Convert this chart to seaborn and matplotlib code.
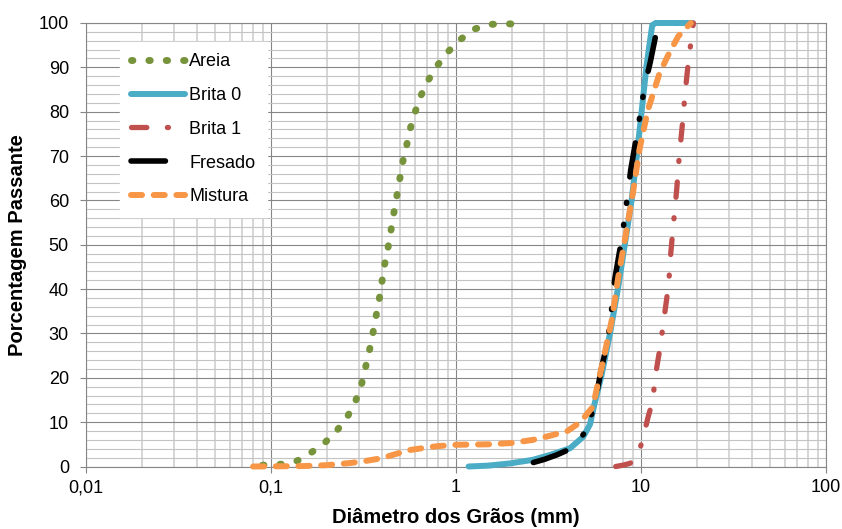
import numpy as np
import pandas as pd
import matplotlib
matplotlib.use("Agg")
import matplotlib.pyplot as plt
import matplotlib.ticker as mticker
import seaborn as sns

# ---------------- data ----------------
areia_d = [0.09, 0.113, 0.139, 0.167, 0.198, 0.230, 0.261, 0.288, 0.309, 0.325, 0.341,
           0.356, 0.370, 0.385, 0.398, 0.411, 0.429, 0.445, 0.461, 0.478, 0.496, 0.515,
           0.541, 0.566, 0.600, 0.644, 0.708, 0.792, 0.905, 1.05, 1.25, 1.53, 1.90, 2.36]
areia_p = [0.3, 0.5, 1.3, 3.3, 5.6, 8.4, 11.5, 15.0, 18.6, 22.5, 26.3,
           30.2, 34.0, 37.8, 41.7, 45.5, 49.3, 53.2, 57.1, 60.8, 64.7, 68.6,
           72.4, 76.2, 79.8, 83.5, 87.1, 90.4, 93.5, 96.2, 98.6, 99.7, 99.8, 99.8]

brita0_d = [1.17, 1.5, 1.96, 2.6, 3.22, 4.13, 4.87, 5.3, 5.6, 6.1, 6.8, 7.54, 8.2,
            8.9, 9.48, 10.1, 10.7, 11.1, 11.5, 12.0, 15.5, 19.0]
brita0_p = [0.0, 0.2, 0.7, 1.5, 2.6, 4.1, 6.7, 9.5, 14.0, 20.3, 30.0, 40.6, 50.4,
            60.1, 69.9, 80.4, 90.2, 95.0, 99.5, 100.0, 100.0, 100.0]

brita1_d = [7.3, 8.0, 8.7, 9.2, 9.6, 10.2, 10.9, 11.6, 11.9, 12.7, 13.4, 14.1, 14.5,
            15.0, 15.6, 16.1, 16.7, 17.3, 18.0, 18.8, 19.2]
brita1_p = [0.0, 0.3, 0.7, 1.3, 2.5, 6.0, 11.0, 15.0, 19.9, 27.0, 34.2, 41.0, 48.3,
            55.0, 62.5, 70.0, 76.7, 84.0, 91.0, 97.0, 100.0]

fresado_d = [2.62, 3.0, 3.5, 4.22, 4.6, 5.05, 5.5, 5.8, 6.1, 6.5, 6.8, 7.2, 7.9,
             8.5, 8.8, 9.6, 10.5, 11.2, 12.4]
fresado_p = [0.9, 1.6, 2.6, 4.1, 5.8, 8.1, 12.7, 17.0, 22.0, 27.0, 32.0, 42.0, 51.8,
             61.8, 66.9, 76.0, 86.1, 91.0, 100.0]

mistura_d = [0.08, 0.15, 0.2, 0.27, 0.33, 0.4, 0.48, 0.56, 0.7, 0.8, 1.0, 1.5, 2.0,
             2.6, 3.2, 4.0, 4.7, 5.5, 5.8, 6.2, 6.95, 7.54, 8.3, 9.1, 9.8, 10.9,
             12.6, 14.2, 15.9, 18.6]
mistura_p = [0.0, 0.1, 0.3, 0.8, 1.3, 1.9, 2.9, 3.7, 4.3, 4.6, 4.9, 5.0, 5.3,
             6.0, 6.9, 8.0, 10.0, 13.5, 18.0, 23.3, 33.0, 42.8, 52.6, 62.4, 71.4, 80.4,
             88.7, 93.2, 97.0, 100.0]

series_names = ["Areia", "Brita 0", "Brita 1", "Fresado", "Mistura"]
x_ticks = [0.01, 0.1, 1, 10, 100]
x_tick_labels = ["0,01", "0,1", "1", "10", "100"]
y_ticks = [0, 10, 20, 30, 40, 50, 60, 70, 80, 90, 100]
x_label = "Diâmetro dos Grãos (mm)"
y_label = "Porcentagem Passante"

# ---------------- style ----------------
sns.set_theme(style="white")
plt.rcParams["font.family"] = ["Liberation Sans", "DejaVu Sans"]
plt.rcParams["lines.scale_dashes"] = True

W, H = 842, 529
fig = plt.figure(figsize=(W / 100, H / 100), dpi=100)
L, R, T, B = 86, 826, 23, 466.5
ax = fig.add_axes([L / W, 1 - B / H, (R - L) / W, (B - T) / H])

GRID_MAJOR = "#868686"

styles = {
    "Areia":   dict(color="#77933c", lw=5.0, dashes=(0.2, 2.3)),
    "Brita 0": dict(color="#4bacc6", lw=4.3, dashes=None),
    "Brita 1": dict(color="#c0504d", lw=3.8, dashes=(2.9, 3.9, 0.2, 3.9)),
    "Fresado": dict(color="#000000", lw=4.0, dashes=(6.2, 4.3, 0.2, 3.8, 0.2, 4.6)),
    "Mistura": dict(color="#f79646", lw=4.3, dashes=(1.85, 1.95)),
}
data = {
    "Areia": (areia_d, areia_p),
    "Brita 0": (brita0_d, brita0_p),
    "Brita 1": (brita1_d, brita1_p),
    "Fresado": (fresado_d, fresado_p),
    "Mistura": (mistura_d, mistura_p),
}

handles = []
for i, name in enumerate(series_names):
    d, p = data[name]
    st = styles[name]
    df = pd.DataFrame({"d": d, "p": p})
    sns.lineplot(data=df, x="d", y="p", sort=False, estimator=None, ax=ax,
                 color=st["color"], linewidth=st["lw"], label=name, zorder=3 + i)
    ln = ax.lines[-1]
    ln.set_clip_on(False)
    if st["dashes"] is not None:
        ln.set_linestyle((0, st["dashes"]))
        ln.set_dash_capstyle("round")
    else:
        ln.set_solid_capstyle("round")
    ln.set_solid_joinstyle("round")
    ln.set_dash_joinstyle("round")
    handles.append(ln)

ax.set_xscale("log")
ax.set_xlim(0.01, 100)
ax.set_ylim(0, 100)

ax.xaxis.set_major_locator(mticker.FixedLocator(x_ticks))
ax.xaxis.set_major_formatter(mticker.FixedFormatter(x_tick_labels))
ax.xaxis.set_minor_locator(mticker.LogLocator(base=10, subs=np.arange(2, 10), numticks=30))
ax.xaxis.set_minor_formatter(mticker.NullFormatter())
ax.yaxis.set_major_locator(mticker.FixedLocator(y_ticks))
ax.yaxis.set_minor_locator(mticker.MultipleLocator(2))

ax.set_axisbelow(True)
ax.grid(which="major", color=GRID_MAJOR, lw=0.8)
ax.xaxis.grid(which="minor", color="#d6d6d6", lw=1.4)
ax.yaxis.grid(which="minor", color="#c4c4c4", lw=0.8)

for s in ax.spines.values():
    s.set_color(GRID_MAJOR)
    s.set_linewidth(0.8)

ax.tick_params(axis="both", which="major", length=4.3, width=0.8, color=GRID_MAJOR,
               direction="out", labelsize=13, labelcolor="#000000")
ax.tick_params(axis="x", which="major", pad=5.0)
ax.tick_params(axis="y", which="major", pad=8.0)
ax.tick_params(axis="both", which="minor", length=0)
ax.tick_params(left=True, bottom=True)

ax.set_xlabel(x_label, fontsize=14.5, fontweight="bold", color="#000000")
ax.set_ylabel(y_label, fontsize=14.5, fontweight="bold", color="#000000")
ax.xaxis.set_label_coords(0.5, (B - 508) / (B - T))
ax.yaxis.set_label_coords((27 - L) / (R - L), 0.5)

leg = ax.legend(handles=handles, labels=series_names, loc="upper left",
                bbox_to_anchor=(120 / W, 1 - 42 / H), bbox_transform=fig.transFigure,
                fontsize=13, frameon=True, fancybox=False, framealpha=1.0,
                edgecolor="white", facecolor="white", borderpad=0.62,
                borderaxespad=0.0, handlelength=3.0, handletextpad=0.22,
                labelspacing=0.93)
leg.set_zorder(20)
for t in leg.get_texts():
    t.set_color("#000000")

fig.savefig("out.png", dpi=100, facecolor="white")
